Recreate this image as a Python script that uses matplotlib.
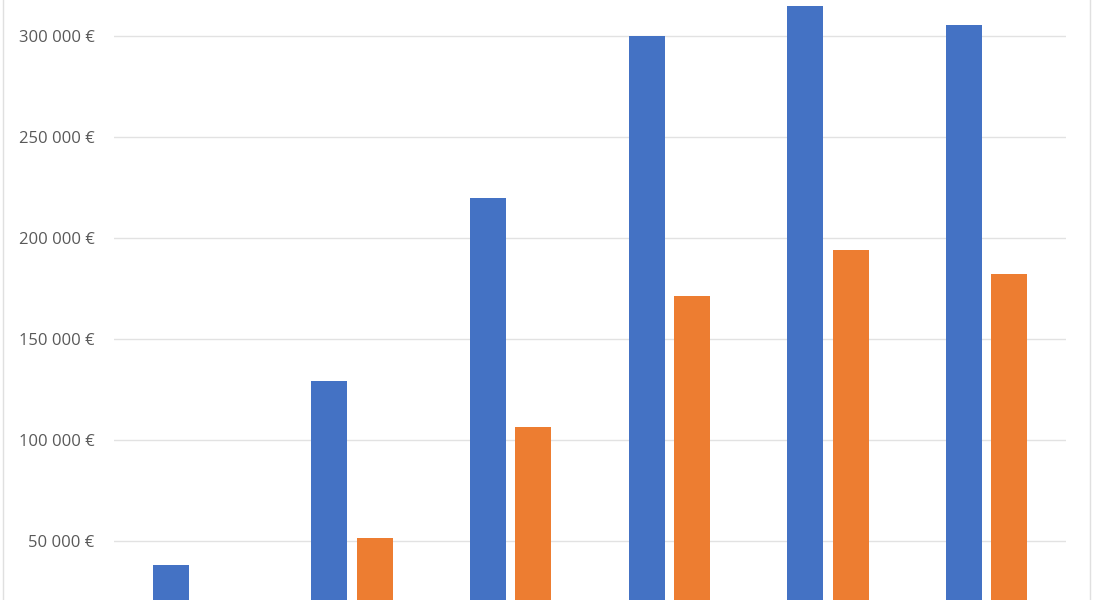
import numpy as np
import matplotlib.pyplot as plt
from matplotlib.lines import Line2D
from matplotlib.ticker import FuncFormatter

# values (the chart is cropped at the bottom)
groups = ["1", "2", "3", "4", "5", "6"]
series_blue = [38000, 129000, 220000, 300000, 315000, 305500]
series_orange = [15000, 51500, 106500, 171500, 194000, 182000]
y_ticks = [50000, 100000, 150000, 200000, 250000, 300000]


def euro(v, pos):
    return "{:,.0f} €".format(v).replace(",", " ")


plt.rcParams["font.family"] = ["Open Sans", "DejaVu Sans"]

fig = plt.figure(figsize=(10.95, 6.0), dpi=100)
ax = fig.add_axes([114 / 1095, 0, (1066 - 114) / 1095, 1])

x = np.arange(len(groups))
width = 0.227
offset = 0.142
ax.bar(x - offset, series_blue, width, color="#4472C4", zorder=2)
ax.bar(x + offset, series_orange, width, color="#ED7D31", zorder=2)

ax.set_xlim(-0.5, 5.5)
ax.set_ylim(20800, 317800)
ax.set_yticks(y_ticks)
ax.yaxis.set_major_formatter(FuncFormatter(euro))
ax.tick_params(axis="y", length=0, pad=14, labelsize=12, labelcolor="#595959")
ax.set_xticks([])
ax.grid(axis="y", color="#E2E2E2", linewidth=1, zorder=0)
for side in ax.spines.values():
    side.set_visible(False)

# faint frame of the chart area
fig.add_artist(Line2D([3 / 1095, 3 / 1095], [0, 1], color="#E0E0E0", linewidth=1))
fig.add_artist(Line2D([1090 / 1095, 1090 / 1095], [0, 1], color="#E0E0E0", linewidth=1))

fig.savefig("out.png", dpi=100)
